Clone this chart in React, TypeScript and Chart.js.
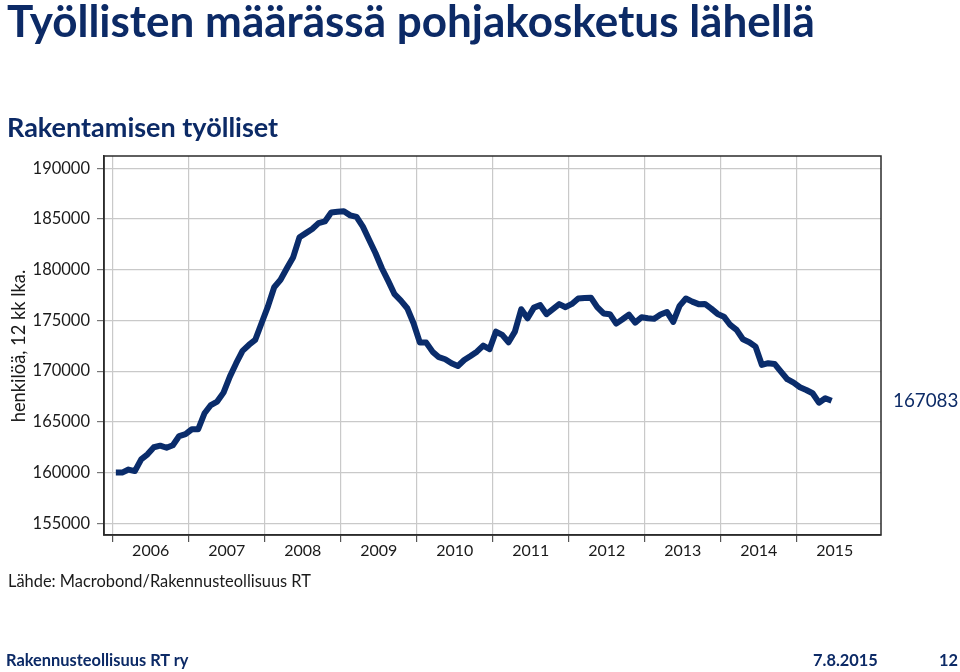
import React, { useEffect, useRef } from "react";
import { Chart, registerables } from "chart.js";

Chart.register(...registerables);

// Monthly data, Jan 2006 – Jun 2015 (12-month moving average, persons)
const startYear = 2006;
const employment: number[] = [
  160000, 160000, 160300, 160150, 161300, 161800, 162500, 162650, 162450, 162700, 163600, 163800,
  164270, 164270, 165850, 166660, 167000, 167880, 169460, 170780, 172000, 172580, 173070, 174720,
  176360, 178270, 179000, 180140, 181230, 183200, 183600, 184000, 184580, 184750, 185630, 185700,
  185750, 185350, 185200, 184240, 182930, 181620, 180140, 178890, 177580, 176950, 176200, 174720,
  172810, 172810, 171920, 171370, 171170, 170780, 170510, 171100, 171500, 171920, 172510, 172160,
  173890, 173570, 172850, 173890, 176100, 175210, 176260, 176500, 175610, 176100, 176600, 176300,
  176620, 177150, 177210, 177240, 176300, 175680, 175610, 174680, 175110, 175570, 174780, 175310,
  175210, 175150, 175570, 175830, 174850, 176430, 177150, 176850, 176600, 176620, 176160, 175640,
  175370, 174550, 174060, 173140, 172850, 172410, 170610, 170780, 170710, 169950, 169200, 168860,
  168410, 168140, 167820, 166890, 167330, 167083,
];
const yearLabels: string[] = ["2006", "2007", "2008", "2009", "2010", "2011", "2012", "2013", "2014", "2015"];
const yTicks: number[] = [155000, 160000, 165000, 170000, 175000, 180000, 185000, 190000];
const lastValueLabel = "167083";

const NAVY = "#0c2a66";
const LINE = "#0a2c6b";
const FONT = "Lato, 'Open Sans', sans-serif";

const boxPlugin = {
  id: "box",
  afterDraw(chart: any) {
    const { ctx, chartArea } = chart;
    ctx.save();
    ctx.strokeStyle = "#2b2b2b";
    ctx.lineWidth = 1.5;
    ctx.strokeRect(chartArea.left, chartArea.top, chartArea.right - chartArea.left, chartArea.bottom - chartArea.top);
    ctx.restore();
  },
};

function Txt(props: { x: number; base: number; size: number; bold?: boolean; color: string; children: any }) {
  const { x, base, size, bold, color, children } = props;
  return (
    <div
      style={{
        position: "absolute",
        left: x,
        top: base - 0.887 * size,
        fontFamily: FONT,
        fontSize: size,
        lineHeight: `${size}px`,
        fontWeight: bold ? 700 : 400,
        color,
        whiteSpace: "nowrap",
      }}
    >
      {children}
    </div>
  );
}

export default function App() {
  const ref = useRef<HTMLCanvasElement | null>(null);

  useEffect(() => {
    if (!ref.current) return;
    const points = employment.map((v, i) => ({ x: i + 0.5, y: v }));
    const chart = new Chart(ref.current, {
      type: "line",
      data: {
        datasets: [
          {
            data: points,
            borderColor: LINE,
            borderWidth: 6,
            pointRadius: 0,
            tension: 0,
            borderJoinStyle: "round",
            borderCapStyle: "butt",
            fill: false,
          },
        ],
      },
      options: {
        responsive: false,
        animation: false,
        layout: { padding: { top: 156, right: 79, bottom: 107, left: 0 } },
        plugins: { legend: { display: false }, tooltip: { enabled: false }, title: { display: false } },
        scales: {
          x: {
            type: "linear",
            min: -1.37,
            max: 121.3,
            afterFit: (s: any) => {
              s.height = 30;
            },
            afterBuildTicks: (s: any) => {
              const t: any[] = [];
              for (let m = 0; m <= 114; m += 6) t.push({ value: m });
              s.ticks = t;
            },
            grid: {
              color: (c: any) => (c.tick && c.tick.value % 12 === 0 ? "#c9c9c9" : "rgba(0,0,0,0)"),
              tickColor: (c: any) => (c.tick && c.tick.value % 12 === 0 ? "#555" : "rgba(0,0,0,0)"),
              tickLength: 7,
              lineWidth: 1.2,
            },
            border: { display: true, color: "#2b2b2b", width: 1.5 },
            ticks: {
              autoSkip: false,
              maxRotation: 0,
              padding: -1,
              color: "#1a1a1a",
              font: { family: FONT, size: 16 },
              callback: (v: any) => {
                const n = Number(v);
                return n % 12 === 6 ? yearLabels[(n - 6) / 12] : "";
              },
            },
          },
          y: {
            min: 153850,
            max: 191200,
            afterFit: (s: any) => {
              s.width = 104;
            },
            afterBuildTicks: (s: any) => {
              s.ticks = yTicks.map((v) => ({ value: v }));
            },
            grid: { color: "#c9c9c9", tickColor: "#777", tickLength: 7, lineWidth: 1.2 },
            border: { display: true, color: "#2b2b2b", width: 1.5 },
            ticks: {
              padding: 7,
              color: "#1a1a1a",
              font: { family: FONT, size: 16.5 },
              callback: (v: any) => String(v),
            },
          },
        },
      },
      plugins: [boxPlugin],
    });
    return () => chart.destroy();
  }, []);

  return (
    <div style={{ position: "absolute", left: 0, top: 0, width: 960, height: 672, background: "#fff", overflow: "hidden" }}>
      <canvas ref={ref} width={960} height={672} style={{ position: "absolute", left: 0, top: 0, width: 960, height: 672 }} />
      <Txt x={7} base={37} size={44} bold color={NAVY}>
        Työllisten määrässä pohjakosketus lähellä
      </Txt>
      <Txt x={7} base={137} size={27} bold color={NAVY}>
        Rakentamisen työlliset
      </Txt>
      <div
        style={{
          position: "absolute",
          left: 18 - 100,
          top: 346 - 11,
          width: 200,
          height: 22,
          lineHeight: "22px",
          textAlign: "center",
          transform: "rotate(-90deg)",
          fontFamily: FONT,
          fontSize: 18.3,
          color: "#1a1a1a",
          whiteSpace: "nowrap",
        }}
      >
        henkilöä, 12 kk lka.
      </div>
      <Txt x={893} base={408} size={18.8} color={NAVY}>
        {lastValueLabel}
      </Txt>
      <Txt x={8} base={588} size={16.4} color="#1a1a1a">
        Lähde: Macrobond/Rakennusteollisuus RT
      </Txt>
      <Txt x={6} base={667} size={16.4} bold color={NAVY}>
        Rakennusteollisuus RT ry
      </Txt>
      <Txt x={813} base={667} size={16.4} bold color={NAVY}>
        7.8.2015
      </Txt>
      <Txt x={939} base={667} size={16.4} bold color={NAVY}>
        12
      </Txt>
    </div>
  );
}
